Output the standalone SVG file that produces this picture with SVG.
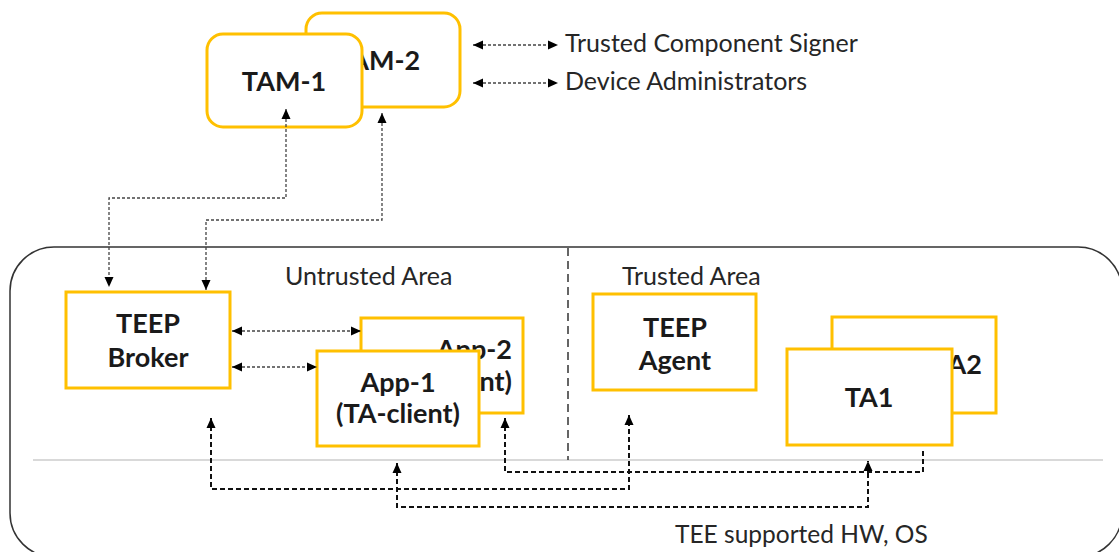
<svg xmlns="http://www.w3.org/2000/svg" width="1119" height="552" viewBox="0 0 1119 552">
<style>
.box{fill:#fff;stroke:#FFC000;stroke-width:3}
.b{font-family:Lato,"Liberation Sans",sans-serif;font-weight:bold;font-size:27px;fill:#1a1a1a;text-anchor:middle}
.r{font-family:Lato,"Liberation Sans",sans-serif;font-size:25px;fill:#262626}
.thin{fill:none;stroke:#444;stroke-width:1.3;stroke-dasharray:3 2}
.thick{fill:none;stroke:#111;stroke-width:2;stroke-dasharray:5 3}
</style>
<defs>
<marker id="ah" markerUnits="userSpaceOnUse" markerWidth="11" markerHeight="11" refX="10" refY="5.5" orient="auto-start-reverse">
<path d="M0,1 L10,5.5 L0,10 z" fill="#000"/>
</marker>
</defs>
<rect width="1119" height="552" fill="#fff"/>
<g id="platform">
<rect x="10" y="247" width="1112" height="310" rx="44" ry="44" fill="#fff" stroke="#333" stroke-width="1.5"/>
<line x1="33" y1="460" x2="1103" y2="460" stroke="#d9d9d9" stroke-width="2"/>
<line x1="568" y1="248" x2="568" y2="460" stroke="#333" stroke-width="1.5" stroke-dasharray="8 5"/>
<text class="r" x="285" y="285">Untrusted Area</text>
<text class="r" x="622" y="285">Trusted Area</text>
<text class="r" x="675" y="543" style="font-size:24.5px">TEE supported HW, OS</text>
</g>
<g id="tam2">
<rect class="box" x="306" y="13" width="154" height="94" rx="16"/>
<text class="b" x="378" y="70">TAM-2</text>
</g>
<g id="tam1">
<rect class="box" x="207" y="34" width="155" height="93" rx="16"/>
<text class="b" x="284" y="91">TAM-1</text>
</g>
<g id="external">
<text class="r" x="565" y="52">Trusted Component Signer</text>
<text class="r" x="565" y="90">Device Administrators</text>
</g>
<g id="broker">
<rect class="box" x="66" y="292" width="164" height="96"/>
<text class="b" x="148" y="333">TEEP</text>
<text class="b" x="148" y="367">Broker</text>
</g>
<g id="app2">
<rect class="box" x="361" y="318" width="162" height="95"/>
<text class="b" x="512" y="359" style="text-anchor:end">App-2</text>
<text class="b" x="512" y="391" style="text-anchor:end">(TA-client)</text>
</g>
<g id="app1">
<rect class="box" x="317" y="351" width="162" height="95"/>
<text class="b" x="398" y="392">App-1</text>
<text class="b" x="398" y="423">(TA-client)</text>
</g>
<g id="agent">
<rect class="box" x="593" y="294" width="163" height="96"/>
<text class="b" x="675" y="337">TEEP</text>
<text class="b" x="675" y="370">Agent</text>
</g>
<g id="ta2">
<rect class="box" x="832" y="317" width="164" height="96"/>
<text class="b" x="982" y="374" style="text-anchor:end">TA2</text>
</g>
<g id="ta1">
<rect class="box" x="787" y="349" width="165" height="96"/>
<text class="b" x="869" y="407">TA1</text>
</g>
<g id="connectors">
<path class="thin" d="M286,109 V198 H109 V287" marker-start="url(#ah)" marker-end="url(#ah)"/>
<path class="thin" d="M382,113 V220 H206 V290" marker-start="url(#ah)" marker-end="url(#ah)"/>
<path class="thin" d="M473,45 H558" marker-start="url(#ah)" marker-end="url(#ah)"/>
<path class="thin" d="M473,83 H558" marker-start="url(#ah)" marker-end="url(#ah)"/>
<path class="thin" d="M232,331 H361" marker-start="url(#ah)" marker-end="url(#ah)"/>
<path class="thin" d="M232,367 H317" marker-start="url(#ah)" marker-end="url(#ah)"/>
<path class="thick" d="M211,418 V489 H629 V415" marker-start="url(#ah)" marker-end="url(#ah)"/>
<path class="thick" d="M397,463 V507 H868 V461" marker-start="url(#ah)" marker-end="url(#ah)"/>
<path class="thick" d="M505,418 V472 H923 V448" marker-start="url(#ah)"/>
</g>
</svg>
